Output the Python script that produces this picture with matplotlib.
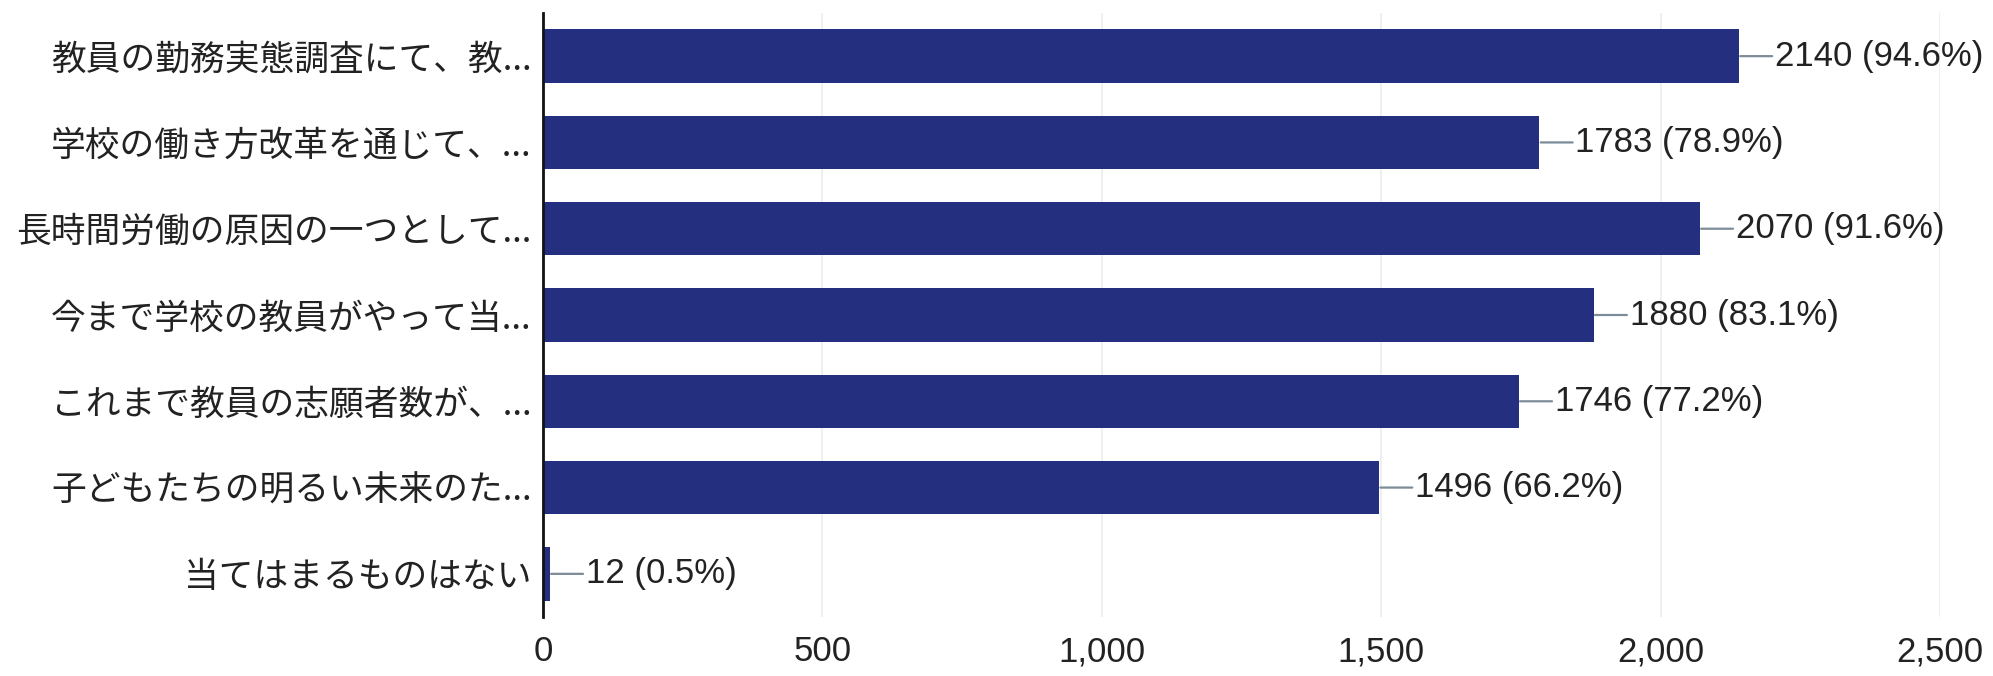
import matplotlib
matplotlib.use("Agg")
import matplotlib.pyplot as plt
from matplotlib.ticker import FuncFormatter

categories = [
    "教員の勤務実態調査にて、教...",
    "学校の働き方改革を通じて、...",
    "長時間労働の原因の一つとして...",
    "今まで学校の教員がやって当...",
    "これまで教員の志願者数が、...",
    "子どもたちの明るい未来のた...",
    "当てはまるものはない",
]
counts = [2140, 1783, 2070, 1880, 1746, 1496, 12]
percents = [94.6, 78.9, 91.6, 83.1, 77.2, 66.2, 0.5]
xticks = [0, 500, 1000, 1500, 2000, 2500]

bar_color = "#252f7f"
line_color = "#7d8c99"
text_color = "#222222"

fig = plt.figure(figsize=(19.93, 6.76), dpi=100)
ax = fig.add_axes([543 / 1993, 1 - 617 / 676, (1940 - 543) / 1993, (617 - 13) / 676])

ypos = list(range(len(categories)))
ax.barh(ypos, counts, height=0.62, color=bar_color, zorder=3)

ax.set_ylim(len(categories) - 0.5, -0.5)
ax.set_xlim(0, 2500)
ax.set_xticks(xticks)
ax.xaxis.set_major_formatter(FuncFormatter(lambda v, p: f"{int(v):,}"))
ax.set_yticks(ypos)
ax.set_yticklabels(categories, family=["Noto Sans CJK JP", "DejaVu Sans"], fontsize=25, color=text_color)

for lab in ax.get_xticklabels():
    lab.set_family(["Liberation Sans", "DejaVu Sans"])
    lab.set_fontsize(25)
    lab.set_color(text_color)

ax.tick_params(axis="x", length=0, pad=13)
ax.tick_params(axis="y", length=0, pad=8)

ax.grid(axis="x", color="#ececec", lw=1.2, zorder=0)
for s in ["top", "right", "bottom"]:
    ax.spines[s].set_visible(False)
ax.spines["left"].set_color("#111111")
ax.spines["left"].set_linewidth(2)
ax.spines["left"].set_zorder(4)

for y, c, p in zip(ypos, counts, percents):
    # horizontal connector from bar end to label
    ax.annotate(
        "", xy=(c, y), xycoords="data",
        xytext=(24, 0), textcoords="offset points",
        arrowprops=dict(arrowstyle="-", color=line_color, lw=1.6,
                        shrinkA=0, shrinkB=1),
    )
    ax.annotate(
        f"{c} ({p}%)",
        xy=(c, y), xycoords="data",
        xytext=(26, 0), textcoords="offset points",
        ha="left", va="center",
        fontsize=25, family=["Liberation Sans", "DejaVu Sans"], color=text_color,
    )

fig.savefig("out.png", dpi=100, facecolor="white")
